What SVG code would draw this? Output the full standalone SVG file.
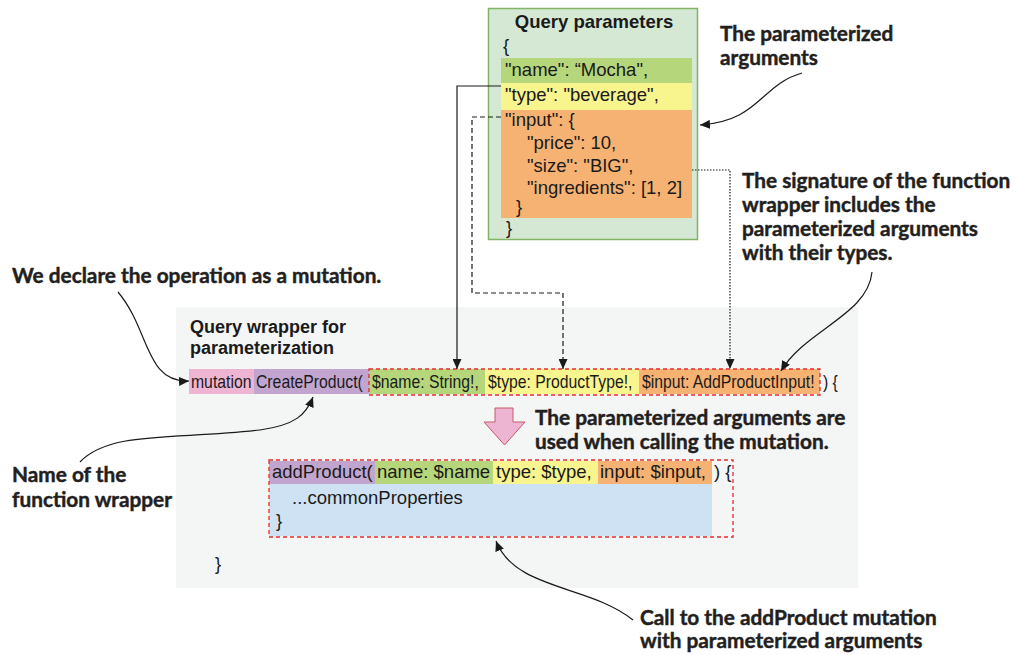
<svg xmlns="http://www.w3.org/2000/svg" width="1021" height="655" viewBox="0 0 1021 655">
<defs>
<marker id="ah" markerUnits="userSpaceOnUse" markerWidth="11" markerHeight="9" refX="10" refY="4.5" orient="auto">
<path d="M0,0 L10,4.5 L0,9 z" fill="#1a1a1a"/>
</marker>
<style>
.code{font-family:"Liberation Sans",Arial,sans-serif;font-size:18.5px;fill:#1a1a1a}
.mcode{font-family:"Liberation Sans",Arial,sans-serif;font-size:19px;fill:#1a1a1a}
.title{font-family:"Liberation Sans",Arial,sans-serif;font-size:18px;font-weight:bold;fill:#1a1a1a}
.note{font-family:Lato,"Liberation Sans",sans-serif;font-size:20.8px;font-weight:bold;fill:#231f20;stroke:#231f20;stroke-width:0.45}
.line{fill:none;stroke:#1a1a1a;stroke-width:1.2}
.redbox{fill:none;stroke:#e32b2b;stroke-width:1.3;stroke-dasharray:4,3}
</style>
</defs>
<rect width="1021" height="655" fill="#ffffff"/>

<g id="wrapper-bg">
<rect x="176" y="307" width="682" height="281" fill="#f4f5f5"/>
<text class="title" x="190" y="333">Query wrapper for</text>
<text class="title" x="190" y="354">parameterization</text>
<text class="code" x="215" y="570">}</text>
</g>

<g id="query-parameters">
<rect x="488.5" y="8.5" width="209" height="231" fill="#d5e8d4" stroke="#82b366" stroke-width="1.5"/>
<rect x="501" y="58" width="191" height="25" fill="#b5d67a"/>
<rect x="501" y="83" width="191" height="27" fill="#f8f48e"/>
<rect x="501" y="110" width="191" height="108" fill="#f6b273"/>
<text class="title" x="594" y="28" text-anchor="middle" style="font-size:18.5px">Query parameters</text>
<text class="code" x="503" y="52">{</text>
<text class="code" x="505" y="76">"name": “Mocha",</text>
<text class="code" x="505" y="101">"type": "beverage",</text>
<text class="code" x="505" y="126">"input": {</text>
<text class="code" x="527" y="149">"price": 10,</text>
<text class="code" x="527" y="172">"size": "BIG",</text>
<text class="code" x="527" y="194">"ingredients": [1, 2]</text>
<text class="code" x="516" y="213">}</text>
<text class="code" x="506" y="234">}</text>
</g>

<g id="mutation-signature">
<rect x="189" y="369" width="65" height="25" fill="#eeb5d3"/>
<rect x="254" y="369" width="115" height="25" fill="#c2a5cf"/>
<rect x="369" y="369" width="116" height="25" fill="#b5d67a"/>
<rect x="485" y="369" width="154" height="25" fill="#f8f48e"/>
<rect x="639" y="369" width="181" height="25" fill="#f6b273"/>
<rect class="redbox" x="369" y="369" width="451" height="26"/>
<text class="mcode" transform="matrix(0.83,0,0,1,191,388)">mutation</text>
<text class="mcode" transform="matrix(0.83,0,0,1,256,388)">CreateProduct(</text>
<text class="mcode" transform="matrix(0.83,0,0,1,372,388)">$name: String!,</text>
<text class="mcode" transform="matrix(0.83,0,0,1,488,388)">$type: ProductType!,</text>
<text class="mcode" transform="matrix(0.83,0,0,1,642,388)">$input: AddProductInput!</text>
<text class="mcode" transform="matrix(0.83,0,0,1,823,388)">) {</text>
</g>

<g id="down-arrow">
<path d="M495,408 L513,408 L513,422 L525,422 L504.5,445 L484,422 L495,422 z" fill="#eeb5d3" stroke="#c45a6a" stroke-width="1"/>
</g>

<g id="add-product-call">
<rect x="269" y="484" width="443" height="52" fill="#cfe2f3"/>
<rect x="269" y="461" width="106" height="23" fill="#c2a5cf"/>
<rect x="375" y="461" width="118" height="23" fill="#b5d67a"/>
<rect x="493" y="461" width="105" height="23" fill="#f8f48e"/>
<rect x="598" y="461" width="114" height="23" fill="#f6b273"/>
<rect class="redbox" x="269" y="460" width="464" height="77"/>
<text class="code" x="272" y="478">addProduct(</text>
<text class="code" x="377" y="478">name: $name</text>
<text class="code" x="496" y="478">type: $type,</text>
<text class="code" x="600" y="478">input: $input,</text>
<text class="code" x="714" y="478">) {</text>
<text class="code" x="292" y="504">...commonProperties</text>
<text class="code" x="276" y="527">}</text>
</g>

<g id="annotations">
<text class="note" x="720" y="41">The parameterized</text>
<text class="note" x="720" y="65">arguments</text>
<text class="note" x="742" y="188">The signature of the function</text>
<text class="note" x="742" y="212">wrapper includes the</text>
<text class="note" x="742" y="236">parameterized arguments</text>
<text class="note" x="742" y="260">with their types.</text>
<text class="note" x="12" y="283">We declare the operation as a mutation.</text>
<text class="note" x="12" y="482">Name of the</text>
<text class="note" x="12" y="507">function wrapper</text>
<text class="note" x="535" y="425">The parameterized arguments are</text>
<text class="note" x="535" y="449">used when calling the mutation.</text>
<text class="note" x="640" y="625">Call to the addProduct mutation</text>
<text class="note" x="640" y="648">with parameterized arguments</text>
</g>

<g id="connectors">
<path class="line" d="M501,86 H457 V369" marker-end="url(#ah)"/>
<path class="line" d="M501,117 H472 V293 H563 V369" stroke-dasharray="5,3" marker-end="url(#ah)"/>
<path class="line" d="M692,170 H730 V369" stroke-dasharray="1.5,1.5" marker-end="url(#ah)"/>
<path class="line" d="M802,73 C760,85 760,121 700,125" marker-end="url(#ah)"/>
<path class="line" d="M872,272 C868,315 805,330 781,371" marker-end="url(#ah)"/>
<path class="line" d="M118,292 C150,330 145,383 189,381" marker-end="url(#ah)"/>
<path class="line" d="M80,462 C110,430 180,440 260,430 C295,425 306,415 313,397" marker-end="url(#ah)"/>
<path class="line" d="M633,620 C590,585 515,590 496,541" marker-end="url(#ah)"/>
</g>
</svg>
